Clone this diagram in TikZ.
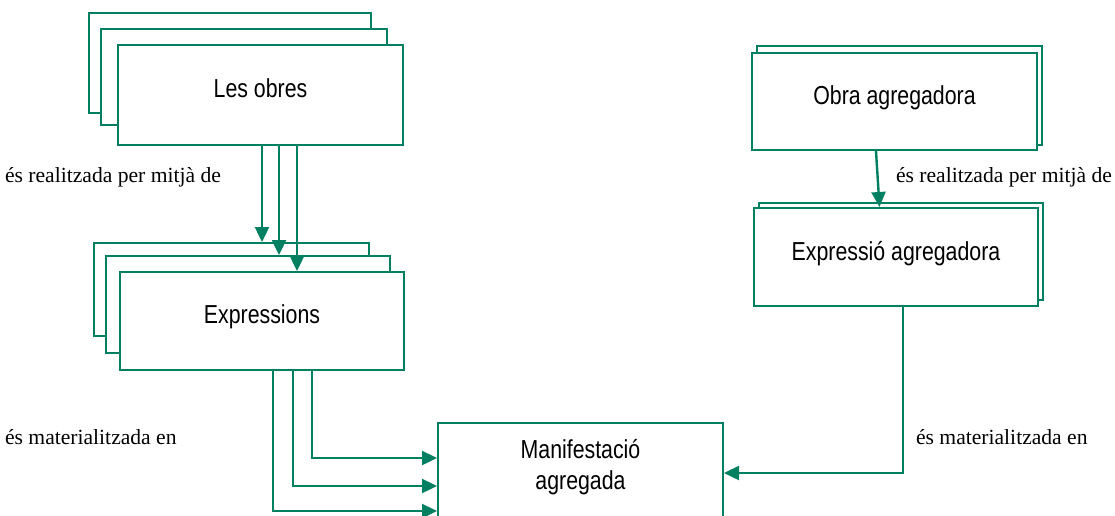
\documentclass[tikz,border=0pt]{standalone}
\usepackage{fontspec}
\setmainfont{Liberation Serif}
\setsansfont{Liberation Sans}[FakeStretch=0.82]
\usepackage{tikz}
\usetikzlibrary{arrows.meta}
\definecolor{frbrgreen}{RGB}{0,128,96}
\tikzset{
  frbr/.style={rectangle, draw=frbrgreen, fill=white, line width=1pt, align=center,
    text depth=0.65em, font=\sffamily\fontsize{13}{15.5}\selectfont},
  flow/.style={draw=frbrgreen, line width=1.2pt, -{Triangle[length=7.5pt, width=7pt]}},
  rel/.style={anchor=west, font=\fontsize{10.8}{13}\selectfont}
}
\newcommand{\frbrbox}[5] {\node at (#1) (#2) [frbr, minimum width=#3, minimum height=#4] {#5};}
\newcommand{\frbrlink}[2] {\draw [flow] (#1) -- (#2);}
\newcommand{\frbrelbow}[2] {\draw [flow] (#1) |- (#2);}
\newcommand{\frbrlabel}[2] {\node at (#1) [rel] {#2};}

\begin{document}
\begin{tikzpicture}[x=0.5pt, y=-0.5pt]
\clip (0,0) rectangle (1115,515);

% les obres
\frbrbox {230,63} {obresC} {141pt} {50pt} {}
\frbrbox {244,77} {obresB} {143pt} {48pt} {}
\frbrbox {260.5,95} {obresA} {142.5pt} {50pt} {Les obres}

% expressions
\frbrbox {231.5,289.5} {exprC} {137.5pt} {46.5pt} {}
\frbrbox {248,304.5} {exprB} {142pt} {48.5pt} {}
\frbrbox {262,321} {exprA} {142pt} {49pt} {Expressions}

% agregadores
\frbrbox {899.5,95.5} {obraB} {142.5pt} {49.5pt} {}
\frbrbox {894.5,101.5} {obraA} {142.5pt} {48.5pt} {Obra agregadora}
\frbrbox {901,251.5} {eagB} {142pt} {48.5pt} {}
\frbrbox {896,257} {eagA} {142pt} {49pt} {Expressió agregadora}

\node at (580.5,422) (manif) [frbr, anchor=north, minimum width=142.5pt, inner ysep=8pt,
  text depth=45pt] {Manifestació\\agregada};

\frbrlink {[xshift=0.75pt]obresA.south} {[xshift=0.75pt]obresA.south |- exprC.north}
\frbrlink {[xshift=9.25pt]obresA.south} {[xshift=9.25pt]obresA.south |- exprB.north}
\frbrlink {[xshift=18.25pt]obresA.south} {[xshift=18.25pt]obresA.south |- exprA.north}

\frbrelbow {[xshift=25pt]exprA.south} {[yshift=-18pt]manif.north west}
\frbrelbow {[xshift=15.5pt]exprA.south} {[yshift=-32pt]manif.north west}
\frbrelbow {[xshift=5.5pt]exprA.south} {[yshift=-44.5pt]manif.north west}

\frbrlink {[xshift=-9.25pt]obraA.south} {[xshift=-8.25pt]eagA.north}
\frbrelbow {[xshift=3.5pt]eagA.south} {[yshift=-25.5pt]manif.north east}

\frbrlabel {-2,177} {és realitzada per mitjà de}
\frbrlabel {889,177} {és realitzada per mitjà de}
\frbrlabel {-2,437} {és materialitzada en}
\frbrlabel {909,437} {és materialitzada en}
\end{tikzpicture}
\end{document}
